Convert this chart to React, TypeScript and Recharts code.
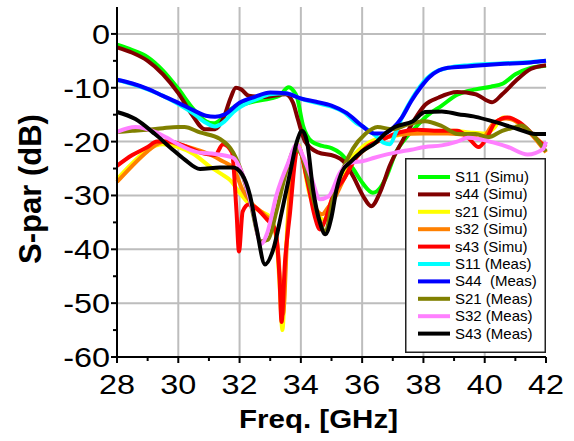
import React from 'react';
import { LineChart, Line, XAxis, YAxis, Legend } from 'recharts';

// [frequency GHz, dB]
const s11Simu: [number, number][] = [
  [28, -2], [28.5, -3], [29, -4.3], [29.5, -6.8], [30, -10.2], [30.5, -14], [30.9, -16.2], [31.15, -16.6],
  [31.4, -15.8], [31.7, -14], [32, -13.3], [32.5, -12.5], [33, -12], [33.3, -11.5], [33.6, -9.9], [33.75, -10.5],
  [33.87, -11.7], [34.07, -17], [34.36, -20], [34.7, -20.8], [35, -21.2], [35.3, -22.2], [35.7, -25], [36, -27.6],
  [36.35, -29.5], [36.6, -28.5], [36.8, -26.4], [37.1, -22], [37.4, -19.5], [37.7, -17.6], [38.1, -15.3],
  [38.6, -13.3], [39.1, -11.3], [39.7, -10.3], [40.2, -9.8], [40.6, -9.2], [41, -7.5], [41.5, -6.3], [42, -5.9],
];
const s44Simu: [number, number][] = [
  [28, -2.5], [28.5, -3.5], [29, -5], [29.5, -7.5], [30, -11], [30.45, -15], [30.87, -17.7], [31.2, -17.7],
  [31.5, -15.3], [31.7, -12], [31.88, -10], [32.05, -10.3], [32.3, -11.5], [32.83, -11.7], [33.5, -11.2],
  [33.74, -12.7], [33.9, -15.8], [34.14, -20], [34.56, -22], [35.1, -22.7], [35.38, -23.6], [35.7, -26.4],
  [36.03, -30.1], [36.3, -32], [36.58, -29.5], [36.9, -24.5], [37.35, -19.5], [37.7, -16], [38.05, -13.2],
  [38.5, -11.8], [39.1, -10.8], [39.7, -11.2], [40.24, -12.7], [40.57, -11.2], [41, -8.8], [41.5, -6.5], [42, -5.8],
];
const s21Simu: [number, number][] = [
  [28, -27], [28.5, -24], [29, -21.5], [29.5, -20.5], [30, -21], [30.5, -22.3], [31, -24.5], [31.4, -26],
  [31.7, -27.2], [32, -29.5], [32.3, -31.5], [32.7, -33], [33, -34], [33.2, -38], [33.3, -46], [33.4, -55],
  [33.5, -42], [33.65, -28], [33.8, -21.5], [33.9, -20.5], [34.05, -23], [34.25, -29], [34.5, -33], [34.75, -34.5],
  [35, -31], [35.3, -27], [35.6, -23.5], [36, -21], [36.5, -19.5], [37, -19], [37.5, -18.5], [38, -18.3],
  [38.5, -18.2], [39, -18], [39.5, -18.3], [40, -18.5], [40.3, -17.5], [40.6, -15.5], [40.9, -15.8],
  [41.3, -17.5], [41.7, -19.5], [42, -21],
];
const s32Simu: [number, number][] = [
  [28, -27.5], [28.5, -24.5], [29, -21.8], [29.3, -20.5], [29.6, -20], [30, -20.5], [30.5, -21.3], [31, -22.3],
  [31.4, -23.5], [31.8, -25], [32.1, -29], [32.4, -31.5], [32.8, -33.5], [33.1, -35.5], [33.25, -40], [33.35, -48],
  [33.42, -52], [33.55, -38], [33.7, -25], [33.85, -20.7], [34, -22], [34.25, -28], [34.5, -32.5], [34.7, -33.5],
  [34.85, -32.5], [35.1, -30.5], [35.4, -27], [35.8, -23], [36.2, -21], [36.7, -19.5], [37.2, -18.7], [38, -18.5],
  [38.8, -18.5], [39.4, -18.8], [39.9, -19.5], [40.3, -16.5], [40.7, -15.7], [41.1, -16.5], [41.5, -18.5], [42, -22],
];
const s43Simu: [number, number][] = [
  [28, -24.5], [28.5, -22.5], [29, -21], [29.3, -20], [29.7, -20], [30.2, -20.8], [30.7, -22], [31.2, -22.5],
  [31.46, -20.5], [31.75, -22], [31.9, -33], [31.98, -40.4], [32.1, -33], [32.3, -31.7], [32.9, -34.5],
  [33.16, -36.3], [33.3, -45], [33.37, -53.5], [33.48, -42.5], [33.65, -33], [33.8, -24], [33.9, -20.8],
  [34.2, -27], [34.45, -33.8], [34.62, -36.3], [34.8, -34.5], [35.05, -30], [35.4, -27], [35.8, -23],
  [36.2, -20.8], [36.7, -19.5], [37.2, -18.3], [37.8, -17.8], [38.5, -18], [39.1, -18], [39.5, -19.5],
  [39.8, -21], [40.05, -19.5], [40.35, -16.4], [40.75, -15.5], [41.1, -16.3], [41.4, -17.7], [41.7, -19.5], [42, -21],
];
const s11Meas: [number, number][] = [
  [28, -8.5], [28.5, -9.3], [29, -10.3], [29.5, -11.5], [30, -13], [30.5, -14.8], [30.9, -16.5], [31.2, -17.2],
  [31.5, -16.3], [31.8, -14.5], [32.2, -13], [32.6, -12], [33, -11.2], [33.5, -11], [34, -12], [34.5, -12.8],
  [35, -13.5], [35.4, -14.5], [35.8, -16.5], [36.1, -17.5], [36.4, -18.7], [36.7, -20.2], [36.9, -20.5],
  [37.1, -18.3], [37.3, -15.5], [37.5, -13.3], [37.8, -10.5], [38.1, -8.3], [38.4, -7], [38.8, -6.3],
  [39.5, -5.8], [40.5, -5.5], [41.5, -5.2], [42, -5],
];
const s44Meas: [number, number][] = [
  [28, -8.5], [28.5, -9.2], [29, -10.2], [29.5, -11.5], [30, -12.8], [30.5, -14.2], [30.9, -15.2], [31.2, -15.4],
  [31.5, -15], [32, -12.8], [32.5, -11.7], [33, -10.9], [33.5, -11], [34, -12], [34.5, -12.6], [35, -13.3],
  [35.5, -14.7], [36, -17.1], [36.4, -18.5], [36.7, -18.5], [37, -17.5], [37.3, -15.5], [37.6, -12.5],
  [37.9, -10], [38.2, -8], [38.5, -6.8], [38.8, -6.3], [39.5, -6], [40.5, -5.6], [41.5, -5.3], [42, -5],
];
const s21Meas: [number, number][] = [
  [28, -18.2], [28.5, -18], [29, -17.8], [29.5, -17.5], [30, -17.3], [30.2, -17.3], [30.71, -18.3], [31.36, -19.5],
  [31.79, -22], [32.07, -25.7], [32.34, -31], [32.7, -38.5], [32.93, -38.2], [33.2, -33], [33.55, -25],
  [33.8, -21.4], [33.98, -22], [34.3, -28.3], [34.56, -33.8], [34.8, -36.8], [35.05, -30.5], [35.38, -25],
  [35.7, -21.3], [36.1, -18.6], [36.5, -17.3], [36.98, -17.7], [37.5, -16.8], [38.05, -16.2], [38.6, -17.1],
  [39.13, -18.6], [39.7, -18.6], [40.1, -19.2], [40.57, -18], [41, -17.3], [41.2, -17], [41.5, -18.3], [42, -21.8],
];
const s32Meas: [number, number][] = [
  [28, -18.2], [28.6, -17.3], [29.24, -18.2], [29.6, -19.2], [30, -20.5], [30.64, -22], [31.2, -22.3],
  [31.79, -23], [32.07, -25.7], [32.44, -33], [32.7, -39], [32.9, -37], [33.2, -30], [33.58, -24], [33.87, -20.5],
  [34.07, -22.7], [34.36, -27], [34.62, -30.7], [34.9, -30.2], [35.28, -25.7], [35.6, -24], [36.03, -23.6],
  [36.4, -23], [37.1, -22], [37.6, -21.5], [38.05, -21], [38.6, -20.7], [39.1, -20], [39.45, -19.3],
  [39.8, -19.5], [40.3, -20.2], [40.76, -21], [41.4, -22.4], [41.9, -21.4], [42, -20],
];
const s43Meas: [number, number][] = [
  [28, -14.5], [28.6, -15.8], [29.24, -18.6], [29.8, -21.4], [30.2, -23.3], [30.71, -25.1], [31.36, -24.8],
  [31.79, -24.8], [32.07, -26], [32.34, -30], [32.56, -36.3], [32.83, -42.8], [33.1, -40], [33.38, -33],
  [33.65, -25.7], [33.87, -20], [34.04, -18], [34.2, -20], [34.4, -29], [34.62, -35], [34.8, -37.2], [35, -34],
  [35.16, -29], [35.35, -25.5], [35.6, -23.9], [36, -21.8], [36.42, -20.3], [36.8, -18.3], [37.07, -17.3],
  [37.66, -16.2], [38.05, -14.5], [38.6, -14.4], [39.13, -14.9], [39.7, -15.4], [40.24, -16.2], [41.1, -17.7],
  [41.65, -18.6], [42, -18.6],
];

const xTicks = [28, 29, 30, 31, 32, 33, 34, 35, 36, 37, 38, 39, 40, 41, 42];
const yTicks = [-60, -55, -50, -45, -40, -35, -30, -25, -20, -15, -10, -5, 0];
const xGrid = [30, 32, 34, 36, 38, 40];
const yGrid = [-50, -40, -30, -20, -10, 0];
const X_RANGE: [number, number] = [28, 42];
const Y_RANGE: [number, number] = [-60, 5];

const series = [
  { name: 'S11 (Simu)', color: '#00ff00', data: s11Simu },
  { name: 's44 (Simu)', color: '#800000', data: s44Simu },
  { name: 's21 (Simu)', color: '#ffff00', data: s21Simu },
  { name: 's32 (Simu)', color: '#ff8000', data: s32Simu },
  { name: 's43 (Simu)', color: '#ff0000', data: s43Simu },
  { name: 'S11 (Meas)', color: '#00ffff', data: s11Meas },
  { name: 'S44  (Meas)', color: '#0000ff', data: s44Meas },
  { name: 'S21 (Meas)', color: '#808000', data: s21Meas },
  { name: 'S32 (Meas)', color: '#ff80ff', data: s32Meas },
  { name: 'S43 (Meas)', color: '#000000', data: s43Meas },
];

// grid drawn as plain line series under the curves
const gridLines = [
  ...xGrid.map((x) => ({ id: 'gx' + x, data: [{ f: x, v: Y_RANGE[0] }, { f: x, v: Y_RANGE[1] }] })),
  ...yGrid.map((y) => ({ id: 'gy' + y, data: [{ f: X_RANGE[0], v: y }, { f: X_RANGE[1], v: y }] })),
];

const FONT = '"Liberation Sans", Arial, sans-serif';

const XTick = (props: any) => {
  const { x, y, payload } = props;
  const major = payload.value % 2 === 0;
  return (
    <g>
      <line x1={x} x2={x} y1={y} y2={y + (major ? 6 : 4)} stroke="#000" strokeWidth={2} />
      {major && (
        <text transform={`translate(${x},${y + 37}) scale(1.2,1)`} textAnchor="middle" fontSize={27} fontFamily={FONT} fill="#000">
          {payload.value}
        </text>
      )}
    </g>
  );
};

const YTick = (props: any) => {
  const { x, y, payload } = props;
  const major = payload.value % 10 === 0;
  return (
    <g>
      <line x1={x} x2={x - (major ? 6 : 4)} y1={y} y2={y} stroke="#000" strokeWidth={2} />
      {major && (
        <text transform={`translate(${x - 7},${y + 10}) scale(1.2,1)`} textAnchor="end" fontSize={27} fontFamily={FONT} fill="#000">
          {payload.value}
        </text>
      )}
    </g>
  );
};

// legend drawn in series order (recharts would sort it by name)
const LegendBox = () => (
  <svg width={141} height={195} style={{ display: 'block' }}>
    <rect x={0.75} y={0.75} width={139.5} height={193.5} fill="#fff" stroke="#222" strokeWidth={1.5} />
    {series.map((s, i) => {
      const cy = 19 + i * 17.4;
      return (
        <g key={s.name}>
          <line x1={13} x2={45} y1={cy} y2={cy} stroke={s.color} strokeWidth={4} />
          <text x={50} y={cy + 5} fontSize={15} fontFamily={FONT} fill="#000" style={{ whiteSpace: 'pre' }}>
            {s.name}
          </text>
        </g>
      );
    })}
  </svg>
);

const App: React.FC = () => {
  return (
    <div style={{ position: 'absolute', left: 0, top: 0, width: 574, height: 441, background: '#fff' }}>
      <LineChart width={574} height={441} margin={{ top: 7, right: 28, left: 0, bottom: 0 }}>
        <XAxis
          dataKey="f"
          type="number"
          domain={X_RANGE}
          ticks={xTicks}
          interval={0}
          height={84}
          tickSize={0}
          tickMargin={0}
          axisLine={{ stroke: '#000', strokeWidth: 2 }}
          tickLine={false}
          tick={<XTick />}
          label={{
            content: (lp: any) => {
              const vb = lp.viewBox || { x: 117, width: 429, y: 357 };
              const cx = vb.x + vb.width / 2 - 13;
              return (
                <text transform={`translate(${cx},${vb.y + 71}) scale(1.18,1)`} textAnchor="middle" fontSize={25} fontWeight="bold" fontFamily={FONT} fill="#000">
                  Freq. [GHz]
                </text>
              );
            },
          }}
        />
        <XAxis xAxisId="top" orientation="top" type="number" domain={X_RANGE} height={0} tick={false} tickLine={false} axisLine={{ stroke: '#000', strokeWidth: 2 }} />
        <YAxis
          type="number"
          domain={Y_RANGE}
          ticks={yTicks}
          interval={0}
          width={117}
          tickSize={0}
          tickMargin={0}
          axisLine={{ stroke: '#000', strokeWidth: 2 }}
          tickLine={false}
          tick={<YTick />}
          label={{
            content: (lp: any) => {
              const vb = lp.viewBox || { y: 7, height: 350 };
              const cy = vb.y + vb.height / 2 + 7;
              return (
                <text transform={`translate(41,${cy}) rotate(-90)`} textAnchor="middle" fontSize={31} fontWeight="bold" fontFamily={FONT} fill="#000">
                  S-par (dB)
                </text>
              );
            },
          }}
        />
        <YAxis yAxisId="right" orientation="right" type="number" domain={Y_RANGE} width={0} tick={false} tickLine={false} axisLine={{ stroke: '#000', strokeWidth: 2 }} />
        {gridLines.map((g) => (
          <Line
            key={g.id}
            name={g.id}
            data={g.data}
            dataKey="v"
            type="linear"
            stroke="#bdbdbd"
            strokeWidth={2}
            dot={false}
            activeDot={false}
            isAnimationActive={false}
          />
        ))}
        {series.map((s) => (
          <Line
            key={s.name}
            name={s.name}
            data={s.data.map(([f, v]) => ({ f, v }))}
            dataKey="v"
            type="monotone"
            stroke={s.color}
            strokeWidth={4}
            dot={false}
            isAnimationActive={false}
          />
        ))}
        <Legend
          layout="vertical"
          align="center"
          verticalAlign="middle"
          content={<LegendBox />}
          wrapperStyle={{ position: 'absolute', left: 405, top: 158, width: 141, height: 195 }}
        />
      </LineChart>
    </div>
  );
};

export default App;
